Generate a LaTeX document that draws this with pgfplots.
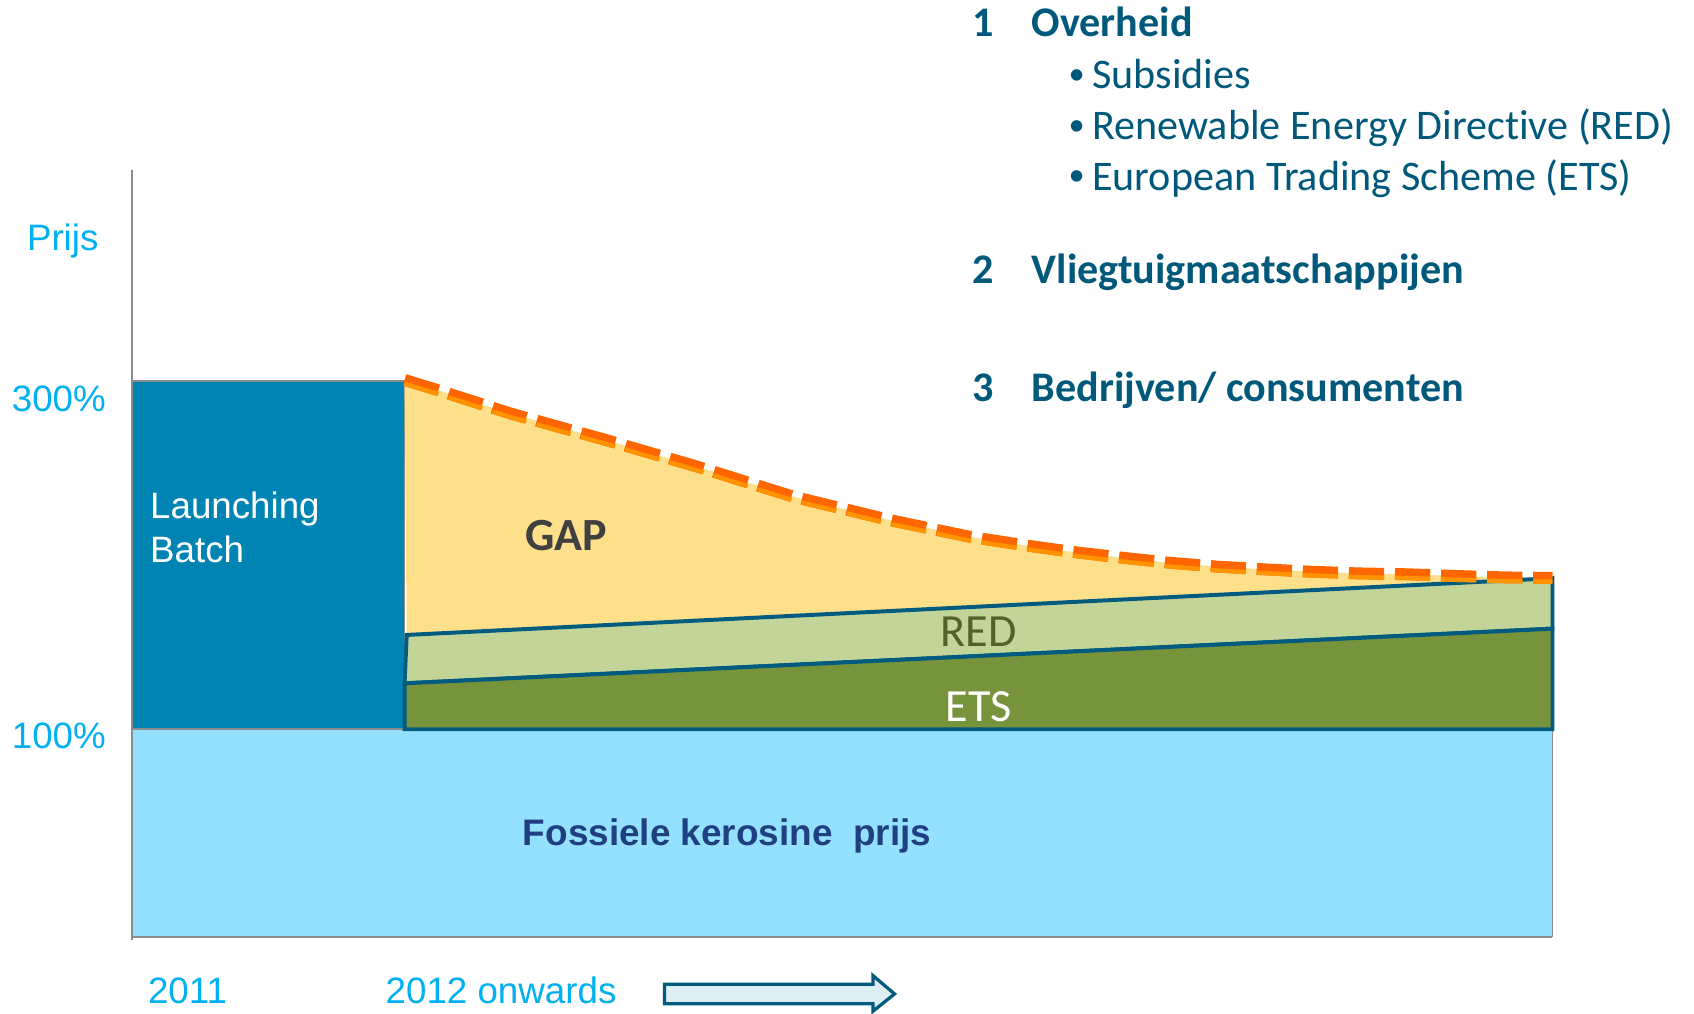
\documentclass[border=0pt]{standalone}
\usepackage{pgfplots}
\pgfplotsset{compat=1.18}
\usepackage{fontspec}
\setmainfont{Liberation Sans}
\newfontfamily\calibri[Ligatures=NoCommon]{Carlito}
\definecolor{fossil}{HTML}{93E1FE}
\definecolor{launch}{HTML}{0084B4}
\definecolor{gapc}{HTML}{FEE08B}
\definecolor{redc}{HTML}{C2D498}
\definecolor{etsc}{HTML}{77933C}
\definecolor{tealc}{HTML}{005B7E}
\definecolor{axgray}{HTML}{8C8C8C}
\definecolor{cyanc}{HTML}{00B0F0}
\definecolor{txtc}{HTML}{00587A}
\definecolor{orD}{HTML}{FF6600}
\definecolor{orL}{HTML}{FF9400}
\definecolor{navyc}{HTML}{203F80}
\definecolor{redtxt}{HTML}{4F6228}
\definecolor{gaptxt}{HTML}{404040}
\definecolor{arrowfill}{HTML}{DDEFF5}
\begin{document}
\begin{tikzpicture}
\useasboundingbox (0,0) rectangle (470.4pt,281.4pt);
\begin{axis}[at={(36.6pt,21.3pt)}, anchor=south west,
  width=394.5pt, height=213pt, scale only axis,
  xmin=0, xmax=100, ymin=-19.25, ymax=421.7,
  axis lines=none, ticks=none, clip=false]
% fossil kerosine price
\addplot[fill=fossil, draw=axgray, line width=0.4pt] coordinates {(0,-19.25) (0,100) (100,100) (100,-19.25)} -- cycle;
% launching batch
\addplot[fill=launch, draw=axgray, line width=0.5pt] coordinates {(0,100) (0,300) (19.2,300) (19.2,100)} -- cycle;
% GAP
\addplot[fill=gapc, draw=none] coordinates {
(19.35,154.2) (100,186.8) (100,187.0) (96.62,187.3) (93.20,188.1) (89.77,189.1) (86.34,189.6)
(82.91,190.6) (79.80,191.9) (76.37,193.5) (72.95,195.8) (69.50,198.8) (66.08,202.1)
(62.66,206.0) (58.95,210.7) (53.32,220.3) (46.56,233.7) (39.83,250.9) (33.36,266.3)
(26.63,281.6) (21.51,295.0) (19.2,300.8)} -- cycle;
% RED
\addplot[fill=redc, draw=tealc, line width=1.1pt, line join=miter] coordinates {(19.35,154.2) (100,186.8) (100,157.8) (19.2,126.4)} -- cycle;
% ETS
\addplot[fill=etsc, draw=tealc, line width=1.1pt, line join=miter] coordinates {(19.2,126.4) (100,157.8) (100,100) (19.2,100)} -- cycle;
% dashed price curve
\addplot[draw=orD, line width=3.3pt, dash pattern=on 9.8pt off 3pt] coordinates {
(19.2,300.8) (21.51,295.0) (26.63,281.6) (33.36,266.3) (39.83,250.9) (46.56,233.7)
(53.32,220.3) (58.95,210.7) (62.66,206.0) (66.08,202.1) (69.50,198.8) (72.95,195.8)
(76.37,193.5) (79.80,191.9) (82.91,190.6) (86.34,189.6) (89.77,189.1) (93.20,188.1)
(96.62,187.3) (100,187.0)};
\addplot[draw=orL, line width=1.2pt, dash pattern=on 9.8pt off 3pt, yshift=-1.05pt] coordinates {
(19.2,300.8) (21.51,295.0) (26.63,281.6) (33.36,266.3) (39.83,250.9) (46.56,233.7)
(53.32,220.3) (58.95,210.7) (62.66,206.0) (66.08,202.1) (69.50,198.8) (72.95,195.8)
(76.37,193.5) (79.80,191.9) (82.91,190.6) (86.34,189.6) (89.77,189.1) (93.20,188.1)
(96.62,187.3) (100,187.0)};
\draw[axgray, line width=0.6pt] (axis cs:0,421.7) -- (axis cs:0,-21) ;
\draw[axgray, line width=0.6pt] (axis cs:0,-19.25) -- (axis cs:100,-19.25);
\end{axis}
\begin{scope}[x=0.3pt,y=0.3pt, every node/.style={inner sep=0pt, outer sep=0pt}]
\def\lsize{\fontsize{10.2}{12}\selectfont}
\def\rsize{\calibri\fontsize{11.7}{14}\selectfont}
\def\bsize{\calibri\fontsize{9}{10}\selectfont}
\node[anchor=base west, text=cyanc] at (25,706) {\lsize Prijs};
\node[anchor=base west, text=cyanc] at (11,557) {\lsize 300\%};
\node[anchor=base west, text=cyanc] at (11,245) {\lsize 100\%};
\node[anchor=base west, text=white] at (139,458) {\lsize Launching};
\node[anchor=base west, text=white] at (139,417) {\lsize Batch};
\node[anchor=base west, text=gaptxt] at (486,428) {\calibri\fontsize{12.8}{15}\selectfont\bfseries GAP};
\node[anchor=base, text=redtxt] at (906,340) {\calibri\fontsize{12.8}{15}\selectfont RED};
\node[anchor=base, text=white] at (906,270) {\calibri\fontsize{12.8}{15}\selectfont ETS};
\node[anchor=base west, text=navyc] at (484,155) {\fontsize{10.25}{12}\selectfont\bfseries Fossiele kerosine\ \ prijs};
\node[anchor=base west, text=cyanc] at (137,9) {\lsize 2011};
\node[anchor=base west, text=cyanc] at (357,9) {\lsize 2012 onwards};
\draw[tealc, fill=arrowfill, line width=0.9pt, line join=miter]
  (615,27) -- (808,27) -- (808,35) -- (828,18) -- (808,2) -- (808,9) -- (615,9) -- cycle;
\node[anchor=base west, text=txtc] at (900,904) {\rsize\bfseries 1};
\node[anchor=base west, text=txtc] at (955,904) {\rsize\bfseries Overheid};
\node[anchor=base west, text=txtc] at (989,860) {\bsize •};
\node[anchor=base west, text=txtc] at (1011,856) {\rsize Subsidies};
\node[anchor=base west, text=txtc] at (989,813) {\bsize •};
\node[anchor=base west, text=txtc] at (1011,809) {\rsize Renewable Energy Directive (RED)};
\node[anchor=base west, text=txtc] at (989,766) {\bsize •};
\node[anchor=base west, text=txtc] at (1011,762) {\rsize European Trading Scheme (ETS)};
\node[anchor=base west, text=txtc] at (900,676) {\rsize\bfseries 2};
\node[anchor=base west, text=txtc] at (955,676) {\rsize\bfseries Vliegtuigmaatschappijen};
\node[anchor=base west, text=txtc] at (900,566) {\rsize\bfseries 3};
\node[anchor=base west, text=txtc] at (955,566) {\rsize\bfseries Bedrijven/ consumenten};
\end{scope}
\end{tikzpicture}
\end{document}
